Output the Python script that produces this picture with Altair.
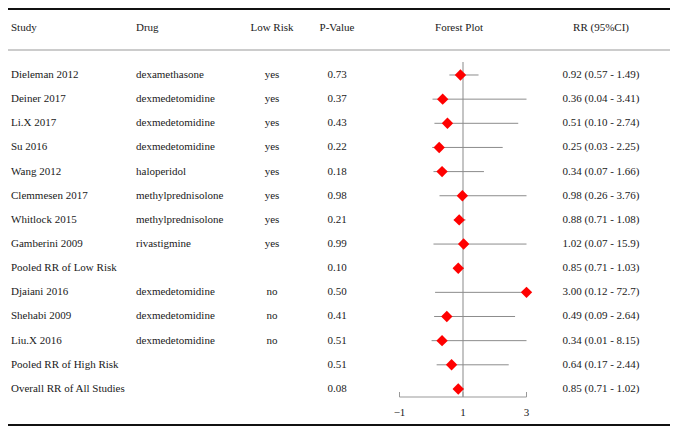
import altair as alt
import pandas as pd

studies = ["Dieleman 2012", "Deiner 2017", "Li.X 2017", "Su 2016", "Wang 2012",
           "Clemmesen 2017", "Whitlock 2015", "Gamberini 2009", "Pooled RR of Low Risk",
           "Djaiani 2016", "Shehabi 2009", "Liu.X 2016", "Pooled RR of High Risk",
           "Overall RR of All Studies"]
drugs = ["dexamethasone", "dexmedetomidine", "dexmedetomidine", "dexmedetomidine",
         "haloperidol", "methylprednisolone", "methylprednisolone", "rivastigmine", "",
         "dexmedetomidine", "dexmedetomidine", "dexmedetomidine", "", ""]
low_risk = ["yes", "yes", "yes", "yes", "yes", "yes", "yes", "yes", "",
            "no", "no", "no", "", ""]
p_values = ["0.73", "0.37", "0.43", "0.22", "0.18", "0.98", "0.21", "0.99", "0.10",
            "0.50", "0.41", "0.51", "0.51", "0.08"]
rr = [0.92, 0.36, 0.51, 0.25, 0.34, 0.98, 0.88, 1.02, 0.85, 3.00, 0.49, 0.34, 0.64, 0.85]
lo = [0.57, 0.04, 0.10, 0.03, 0.07, 0.26, 0.71, 0.07, 0.71, 0.12, 0.09, 0.01, 0.17, 0.71]
hi = [1.49, 3.41, 2.74, 2.25, 1.66, 3.76, 1.08, 15.9, 1.03, 72.7, 2.64, 8.15, 2.44, 1.02]
rr_text = ["0.92 (0.57 - 1.49)", "0.36 (0.04 - 3.41)", "0.51 (0.10 - 2.74)",
           "0.25 (0.03 - 2.25)", "0.34 (0.07 - 1.66)", "0.98 (0.26 - 3.76)",
           "0.88 (0.71 - 1.08)", "1.02 (0.07 - 15.9)", "0.85 (0.71 - 1.03)",
           "3.00 (0.12 - 72.7)", "0.49 (0.09 - 2.64)", "0.34 (0.01 - 8.15)",
           "0.64 (0.17 - 2.44)", "0.85 (0.71 - 1.02)"]
headers = ["Study", "Drug", "Low Risk", "P-Value", "Forest Plot", "RR (95%CI)"]
axis_ticks = [-1, 1, 3]

W, H = 662, 418
FONT = "Liberation Serif"
FS = 11
TXT = "#1a1a1a"

df = pd.DataFrame({
    "row": list(range(len(studies))),
    "study": studies, "drug": drugs, "low": low_risk, "p": p_values,
    "rr": rr, "lo": lo, "hi": hi, "rrt": rr_text,
})
df["hi_c"] = df["hi"].clip(upper=max(axis_ticks))
df["lo_c"] = df["lo"].clip(lower=min(axis_ticks))

yscale = alt.Scale(domain=[-2.7743, 14.5342], reverse=True, nice=False, zero=False)
xscale = alt.Scale(domain=[-13.331, 7.5197], nice=False, zero=False)
Y = alt.Y("row:Q", scale=yscale, axis=None)

base = alt.Chart(df)

def col(field, xpx, align):
    return base.mark_text(font=FONT, fontSize=FS, color=TXT, align=align, baseline="middle").encode(
        x=alt.value(xpx), y=Y, text=f"{field}:N")

layers = [
    col("study", 3, "left"),
    col("drug", 128, "left"),
    col("low", 264, "center"),
    col("p", 329, "center"),
    col("rrt", 593, "center"),
]

hx = [3, 128, 264, 329, 451, 593]
hal = ["left", "left", "center", "center", "center", "center"]
for h, xp, al in zip(headers, hx, hal):
    layers.append(alt.Chart(pd.DataFrame({"h": [h]})).mark_text(
        font=FONT, fontSize=FS, color=TXT, align=al, baseline="middle").encode(
        x=alt.value(xp), y=alt.value(20), text="h:N"))

# table rules
layers.append(alt.Chart(pd.DataFrame({"a": [0]})).mark_rule(color="#111", strokeWidth=2).encode(
    x=alt.value(0), x2=alt.value(W), y=alt.value(1)))
layers.append(alt.Chart(pd.DataFrame({"a": [0]})).mark_rule(color="#999", strokeWidth=1).encode(
    x=alt.value(0), x2=alt.value(W), y=alt.value(42)))
layers.append(alt.Chart(pd.DataFrame({"a": [0]})).mark_rule(color="#111", strokeWidth=2).encode(
    x=alt.value(0), x2=alt.value(W), y=alt.value(417)))

tdf = pd.DataFrame({"t": axis_ticks, "lab": ["\u22121", "1", "3"]})
X = lambda f: alt.X(f, scale=xscale, axis=None)

# reference line at 1
layers.append(alt.Chart(pd.DataFrame({"v": [1]})).mark_rule(color="#b0b0b0", strokeWidth=1.5).encode(
    x=X("v:Q"), y=alt.value(54), y2=alt.value(389)))
# axis line
layers.append(alt.Chart(pd.DataFrame({"a": [min(axis_ticks)], "b": [max(axis_ticks)]})).mark_rule(
    color="#999", strokeWidth=1).encode(x=X("a:Q"), x2="b:Q", y=alt.value(389)))
layers.append(alt.Chart(tdf).mark_rule(color="#999", strokeWidth=1).encode(
    x=X("t:Q"), y=alt.value(384), y2=alt.value(389)))
layers.append(alt.Chart(tdf).mark_text(font=FONT, fontSize=FS, color=TXT, baseline="middle").encode(
    x=X("t:Q"), y=alt.value(405), text="lab:N"))

# CI lines
layers.append(base.mark_rule(color="#8c8c8c", strokeWidth=1).encode(
    x=X("lo_c:Q"), x2="hi_c:Q", y=Y))
# diamonds
layers.append(base.mark_point(shape="diamond", filled=True, color="#ff0000", size=130, opacity=1).encode(
    x=X("rr:Q"), y=Y))

chart = alt.layer(*layers).properties(
    width=W, height=H, padding=0, autosize="none",
    view=alt.ViewBackground(stroke=None, strokeWidth=0, strokeOpacity=0),
).configure_view(strokeWidth=0, strokeOpacity=0).configure(background="white")

chart.save("out.html", embed_options={"renderer": "svg", "actions": False})
